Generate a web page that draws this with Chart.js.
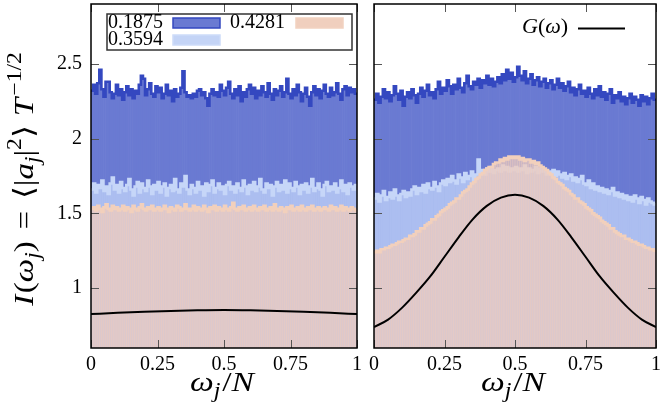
<!DOCTYPE html>
<html>
<head>
<meta charset="utf-8">
<script src="https://cdn.jsdelivr.net/npm/chart.js@4.4.1/dist/chart.umd.min.js"></script>
<style>
  html, body { margin: 0; padding: 0; background: #fff; }
  #wrap { position: relative; width: 660px; height: 409px; }
  canvas { position: absolute; left: 0; top: 0; }
</style>
</head>
<body>
<div id="wrap">
  <canvas id="leftChart" width="660" height="409"></canvas>
  <canvas id="rightChart" width="660" height="409"></canvas>
</div>
<script>
// tick positions
const xTicks = [0, 0.25, 0.5, 0.75, 1];
const yTicks = [1, 1.5, 2, 2.5];

// histogram heights, 128 bins over omega_j/N in [0,1]
const leftDark = [
  2.32, 2.36, 2.30, 2.37, 2.46, 2.33, 2.28, 2.38, 2.38, 2.31, 2.27, 2.30, 2.36, 2.29, 2.33, 2.26,
  2.31, 2.35, 2.29, 2.33, 2.27, 2.32, 2.30, 2.36, 2.42, 2.40, 2.29, 2.33, 2.37, 2.30, 2.28, 2.35,
  2.31, 2.34, 2.27, 2.30, 2.36, 2.29, 2.32, 2.25, 2.33, 2.28, 2.30, 2.34, 2.45, 2.31, 2.28, 2.29,
  2.27, 2.30, 2.28, 2.32, 2.33, 2.29, 2.31, 2.27, 2.22, 2.30, 2.33, 2.29, 2.31, 2.28, 2.36, 2.32,
  2.29, 2.34, 2.38, 2.30, 2.27, 2.33, 2.29, 2.35, 2.25, 2.31, 2.28, 2.33, 2.36, 2.30, 2.34, 2.27,
  2.32, 2.29, 2.35, 2.31, 2.28, 2.37, 2.30, 2.26, 2.33, 2.29, 2.32, 2.35, 2.28, 2.31, 2.40, 2.30,
  2.27, 2.33, 2.29, 2.36, 2.31, 2.25, 2.30, 2.34, 2.28, 2.22, 2.31, 2.35, 2.29, 2.33, 2.27, 2.32,
  2.36, 2.30, 2.28, 2.34, 2.29, 2.31, 2.37, 2.30, 2.26, 2.33, 2.35, 2.29, 2.34, 2.31, 2.33, 2.30
];
const leftLight = [
  1.66, 1.70, 1.64, 1.69, 1.67, 1.72, 1.65, 1.68, 1.63, 1.70, 1.74, 1.66, 1.69, 1.64, 1.71, 1.67,
  1.65, 1.69, 1.73, 1.66, 1.62, 1.68, 1.71, 1.64, 1.70, 1.67, 1.65, 1.72, 1.68, 1.63, 1.69, 1.66,
  1.71, 1.64, 1.68, 1.70, 1.62, 1.67, 1.69, 1.65, 1.73, 1.66, 1.64, 1.70, 1.68, 1.75, 1.66, 1.63,
  1.69, 1.67, 1.64, 1.71, 1.66, 1.68, 1.62, 1.70, 1.65, 1.69, 1.72, 1.64, 1.67, 1.70, 1.66, 1.68,
  1.63, 1.69, 1.71, 1.66, 1.68, 1.64, 1.70, 1.67, 1.65, 1.72, 1.68, 1.63, 1.69, 1.66, 1.71, 1.65,
  1.68, 1.73, 1.66, 1.64, 1.70, 1.67, 1.69, 1.62, 1.68, 1.71, 1.65, 1.69, 1.66, 1.72, 1.64, 1.70,
  1.67, 1.65, 1.71, 1.68, 1.63, 1.69, 1.66, 1.70, 1.64, 1.68, 1.73, 1.65, 1.67, 1.70, 1.66, 1.62,
  1.69, 1.71, 1.65, 1.68, 1.66, 1.70, 1.64, 1.67, 1.72, 1.65, 1.69, 1.63, 1.70, 1.68, 1.66, 1.69
];
const leftPeach = [
  1.53, 1.54, 1.52, 1.55, 1.53, 1.51, 1.54, 1.56, 1.53, 1.52, 1.55, 1.53, 1.54, 1.52, 1.53, 1.55,
  1.52, 1.54, 1.53, 1.51, 1.55, 1.53, 1.52, 1.54, 1.56, 1.53, 1.52, 1.54, 1.53, 1.55, 1.52, 1.53,
  1.54, 1.52, 1.53, 1.55, 1.53, 1.51, 1.54, 1.53, 1.52, 1.55, 1.54, 1.52, 1.53, 1.56, 1.53, 1.52,
  1.53, 1.55, 1.52, 1.54, 1.53, 1.52, 1.55, 1.53, 1.51, 1.54, 1.53, 1.55, 1.52, 1.54, 1.53, 1.52,
  1.55, 1.53, 1.52, 1.54, 1.57, 1.53, 1.52, 1.54, 1.53, 1.55, 1.52, 1.53, 1.54, 1.52, 1.55, 1.53,
  1.52, 1.54, 1.53, 1.55, 1.52, 1.53, 1.54, 1.52, 1.56, 1.53, 1.52, 1.54, 1.53, 1.51, 1.54, 1.53,
  1.55, 1.52, 1.53, 1.54, 1.52, 1.55, 1.53, 1.52, 1.54, 1.53, 1.55, 1.52, 1.53, 1.54, 1.52, 1.53,
  1.54, 1.53, 1.52, 1.55, 1.53, 1.54, 1.52, 1.53, 1.55, 1.52, 1.54, 1.53, 1.52, 1.54, 1.53, 1.52
];
const rightDark = [
  2.26, 2.30, 2.24, 2.28, 2.33, 2.27, 2.31, 2.25, 2.29, 2.35, 2.30, 2.26, 2.32, 2.22, 2.28, 2.31,
  2.27, 2.33, 2.29, 2.24, 2.30, 2.34, 2.28, 2.32, 2.36, 2.29, 2.31, 2.27, 2.33, 2.38, 2.30, 2.34,
  2.32, 2.39, 2.35, 2.30, 2.36, 2.33, 2.40, 2.34, 2.31, 2.37, 2.42, 2.35, 2.33, 2.38, 2.36, 2.40,
  2.34, 2.39, 2.37, 2.42, 2.36, 2.40, 2.35, 2.38, 2.41, 2.37, 2.43, 2.39, 2.46, 2.40, 2.44, 2.38,
  2.41, 2.48, 2.42, 2.39, 2.45, 2.37, 2.40, 2.43, 2.36, 2.39, 2.41, 2.35, 2.38, 2.40, 2.34, 2.37,
  2.39, 2.33, 2.36, 2.40, 2.34, 2.37, 2.32, 2.35, 2.38, 2.31, 2.34, 2.29, 2.33, 2.36, 2.30, 2.32,
  2.28, 2.34, 2.30, 2.27, 2.33, 2.29, 2.35, 2.28, 2.31, 2.26, 2.30, 2.33, 2.24, 2.29, 2.27, 2.31,
  2.25, 2.28, 2.23, 2.27, 2.30, 2.24, 2.28, 2.26, 2.22, 2.29, 2.25, 2.28, 2.23, 2.27, 2.30, 2.26
];
const rightLight = [
  1.60, 1.63, 1.58, 1.62, 1.65, 1.59, 1.61, 1.64, 1.60, 1.66, 1.62, 1.59, 1.63, 1.65, 1.61, 1.64,
  1.62, 1.66, 1.68, 1.63, 1.67, 1.65, 1.69, 1.64, 1.70, 1.67, 1.66, 1.71, 1.68, 1.65, 1.70, 1.72,
  1.69, 1.73, 1.71, 1.75, 1.72, 1.70, 1.76, 1.74, 1.71, 1.77, 1.73, 1.75, 1.78, 1.72, 1.76, 1.86,
  1.77, 1.79, 1.76, 1.80, 1.78, 1.81, 1.77, 1.79, 1.80, 1.78, 1.82, 1.79, 1.81, 1.78, 1.80, 1.79,
  1.81, 1.78, 1.80, 1.79, 1.82, 1.77, 1.80, 1.78, 1.79, 1.81, 1.77, 1.80, 1.78, 1.79, 1.76, 1.78,
  1.77, 1.79, 1.75, 1.78, 1.76, 1.74, 1.77, 1.73, 1.75, 1.76, 1.72, 1.74, 1.71, 1.73, 1.75, 1.70,
  1.69, 1.72, 1.67, 1.70, 1.66, 1.68, 1.65, 1.67, 1.64, 1.66, 1.63, 1.65, 1.67, 1.62, 1.64, 1.61,
  1.63, 1.60, 1.62, 1.59, 1.61, 1.58, 1.62, 1.60, 1.57, 1.61, 1.59, 1.56, 1.60, 1.58, 1.57, 1.56
];
const rightPeach = [
  1.24, 1.25, 1.24, 1.26, 1.26, 1.27, 1.27, 1.28, 1.29, 1.29, 1.30, 1.31, 1.31, 1.32, 1.33, 1.33,
  1.35, 1.35, 1.36, 1.38, 1.38, 1.40, 1.40, 1.42, 1.43, 1.44, 1.46, 1.46, 1.48, 1.49, 1.51, 1.52,
  1.53, 1.54, 1.56, 1.57, 1.58, 1.60, 1.60, 1.62, 1.64, 1.65, 1.66, 1.68, 1.70, 1.71, 1.73, 1.74,
  1.76, 1.77, 1.79, 1.80, 1.81, 1.81, 1.83, 1.84, 1.84, 1.86, 1.85, 1.87, 1.86, 1.88, 1.87, 1.88,
  1.87, 1.88, 1.86, 1.87, 1.85, 1.86, 1.86, 1.84, 1.85, 1.83, 1.84, 1.82, 1.81, 1.80, 1.79, 1.77,
  1.76, 1.74, 1.73, 1.71, 1.70, 1.69, 1.67, 1.66, 1.65, 1.63, 1.62, 1.60, 1.60, 1.58, 1.57, 1.56,
  1.54, 1.53, 1.52, 1.50, 1.49, 1.48, 1.47, 1.45, 1.44, 1.43, 1.42, 1.40, 1.40, 1.38, 1.37, 1.36,
  1.35, 1.35, 1.33, 1.33, 1.32, 1.31, 1.31, 1.30, 1.29, 1.29, 1.28, 1.27, 1.27, 1.26, 1.26, 1.25
];

// G(omega) curves, sampled along omega_j/N
const gLeftX = [0, 0.1, 0.2, 0.3, 0.4, 0.5, 0.6, 0.7, 0.8, 0.9, 1];
const gLeftY = [0.827, 0.835, 0.842, 0.848, 0.852, 0.854, 0.852, 0.848, 0.842, 0.835, 0.827];
const gRightX = [0, 0.05, 0.1, 0.15, 0.2, 0.25, 0.3, 0.35, 0.4, 0.45, 0.5,
                 0.55, 0.6, 0.65, 0.7, 0.75, 0.8, 0.85, 0.9, 0.95, 1];
const gRightY = [0.74, 0.79, 0.87, 0.97, 1.08, 1.21, 1.34, 1.46, 1.55, 1.605, 1.625,
                 1.605, 1.55, 1.46, 1.34, 1.21, 1.08, 0.97, 0.87, 0.79, 0.74];

const legendLabels = ['0.1875', '0.3594', '0.4281'];

const serif = '"Liberation Serif", "DejaVu Serif", serif';

const colors = {
  dark:  { fill: 'rgb(106, 122, 210)', edge: 'rgb(52, 72, 192)' },
  light: { fill: 'rgb(172, 190, 240)', edge: 'rgb(198, 214, 248)' },
  peach: { fill: 'rgba(238, 204, 190, 0.72)', edge: 'rgb(242, 208, 188)' }
};

// bars sit on bin centres, outline steps along bin edges
function centres(vals) {
  return vals.map((v, i) => ({ x: (i + 0.5) / vals.length, y: v }));
}
function edges(vals) {
  const pts = vals.map((v, i) => ({ x: i / vals.length, y: v }));
  pts.push({ x: 1, y: vals[vals.length - 1] });
  return pts;
}
function pairs(xs, ys) {
  return xs.map((x, i) => ({ x: x, y: ys[i] }));
}

function histSets(vals, c, order) {
  return [{
    type: 'line', data: edges(vals), stepped: true, fill: false,
    borderColor: c.edge, borderWidth: 2.6, pointRadius: 0, order: order
  }, {
    type: 'bar', data: centres(vals), backgroundColor: c.fill, borderWidth: 0,
    barPercentage: 1, categoryPercentage: 1, grouped: false, order: order + 1
  }];
}

// math-style text: italics, sub- and superscripts, widened glyphs
function drawRich(ctx, parts, x, y, size, align, stretch) {
  const fontOf = p => (p.it ? 'italic ' : '') + ((p.sub || p.sup) ? Math.round(size * 0.7) : size) + 'px ' + serif;
  let w = 0;
  parts.forEach(p => {
    if (p.gap) { p.w = p.gap * size; } else { ctx.font = fontOf(p); p.w = ctx.measureText(p.t).width * stretch; }
    w += p.w;
  });
  let cx = align === 'center' ? x - w / 2 : x;
  ctx.textBaseline = 'alphabetic';
  ctx.textAlign = 'left';
  parts.forEach(p => {
    if (!p.gap) {
      ctx.font = fontOf(p);
      const dy = p.sub ? size * 0.22 : p.sup ? -size * 0.42 : 0;
      ctx.save();
      ctx.translate(cx, y + dy);
      ctx.scale(stretch, 1);
      ctx.fillText(p.t, 0, 0);
      ctx.restore();
    }
    cx += p.w;
  });
}

const xTitle = [{ t: 'ω', it: true }, { t: 'j', it: true, sub: true }, { gap: 0.06 }, { t: '/' }, { t: 'N', it: true }];
const yTitle = [
  { t: 'I', it: true }, { gap: 0.06 }, { t: '(' }, { t: 'ω', it: true }, { t: 'j', it: true, sub: true }, { t: ')' },
  { gap: 0.42 }, { t: '=' }, { gap: 0.42 },
  { t: '⟨' }, { t: '|' }, { t: 'a', it: true }, { t: 'j', it: true, sub: true }, { t: '|' }, { t: '2', sup: true },
  { t: '⟩' }, { gap: 0.32 }, { t: 'T', it: true }, { gap: 0.08 }, { t: '−1/2', sup: true }
];

// inward ticks on all four sides plus the black frame and the x title
const frame = {
  id: 'frame',
  afterDatasetsDraw(chart) {
    const { ctx, chartArea: a, scales: { x, y } } = chart;
    ctx.save();
    ctx.strokeStyle = '#555';
    ctx.lineWidth = 1;
    ctx.beginPath();
    xTicks.forEach(v => {
      const px = Math.round(x.getPixelForValue(v)) + 0.5;
      ctx.moveTo(px, a.bottom); ctx.lineTo(px, a.bottom - 8);
      ctx.moveTo(px, a.top); ctx.lineTo(px, a.top + 8);
    });
    yTicks.forEach(v => {
      const py = Math.round(y.getPixelForValue(v)) + 0.5;
      ctx.moveTo(a.left, py); ctx.lineTo(a.left + 8, py);
      ctx.moveTo(a.right, py); ctx.lineTo(a.right - 8, py);
    });
    ctx.stroke();
    ctx.strokeStyle = '#000';
    ctx.lineWidth = 1.5;
    ctx.strokeRect(a.left, a.top, a.right - a.left, a.bottom - a.top);
    ctx.fillStyle = '#000';
    drawRich(ctx, xTitle, (a.left + a.right) / 2 - 2, 391, 28, 'center', 1.2);
    ctx.restore();
  }
};

const leftDecor = {
  id: 'leftDecor',
  afterDraw(chart) {
    const ctx = chart.ctx;
    ctx.save();
    // y axis title, rotated
    ctx.fillStyle = '#000';
    ctx.translate(33, 179);
    ctx.rotate(-Math.PI / 2);
    drawRich(ctx, yTitle, 0, 0, 28, 'center', 1.18);
    ctx.restore();

    // legend box
    ctx.save();
    ctx.fillStyle = '#fff';
    ctx.fillRect(107, 14, 245, 36);
    ctx.strokeStyle = '#333';
    ctx.lineWidth = 1.5;
    ctx.strokeRect(107, 14, 245, 36);
    ctx.fillStyle = '#000';
    ctx.font = '20px ' + serif;
    ctx.textBaseline = 'alphabetic';
    ctx.fillText(legendLabels[0], 108, 28);
    ctx.fillText(legendLabels[1], 108, 45);
    ctx.fillText(legendLabels[2], 230, 28);
    const swatch = (x, y, c) => {
      ctx.fillStyle = c.fill; ctx.fillRect(x, y, 47, 10);
      ctx.strokeStyle = c.edge; ctx.lineWidth = 1.5; ctx.strokeRect(x, y, 47, 10);
    };
    swatch(173, 18, colors.dark);
    swatch(173, 35, { fill: 'rgb(196, 212, 246)', edge: 'rgb(205, 219, 249)' });
    swatch(296, 18, { fill: 'rgb(240, 207, 190)', edge: 'rgb(242, 210, 192)' });
    ctx.restore();
  }
};

const rightDecor = {
  id: 'rightDecor',
  afterDraw(chart) {
    const ctx = chart.ctx;
    ctx.save();
    ctx.fillStyle = '#000';
    drawRich(ctx, [{ t: 'G', it: true }, { t: '(' }, { t: 'ω', it: true }, { t: ')' }], 522, 33, 21, 'left', 1.05);
    ctx.strokeStyle = '#000';
    ctx.lineWidth = 2;
    ctx.beginPath();
    ctx.moveTo(578, 28.5); ctx.lineTo(625, 28.5);
    ctx.stroke();
    ctx.restore();
  }
};

function makeChart(id, dark, light, peach, g, showY, padding, decor) {
  const datasets = [
    { type: 'line', data: g, borderColor: '#000', borderWidth: 2, pointRadius: 0,
      fill: false, cubicInterpolationMode: 'monotone', order: 0 }
  ].concat(histSets(peach, colors.peach, 1), histSets(light, colors.light, 3), histSets(dark, colors.dark, 5));

  return new Chart(document.getElementById(id).getContext('2d'), {
    type: 'bar',
    data: { datasets: datasets },
    options: {
      responsive: false,
      animation: false,
      devicePixelRatio: 1,
      layout: { padding: padding },
      plugins: { legend: { display: false }, tooltip: { enabled: false } },
      scales: {
        x: {
          type: 'linear', min: 0, max: 1, offset: false,
          afterBuildTicks: s => { s.ticks = xTicks.map(v => ({ value: v })); },
          afterFit: s => { s.height = 61; s.paddingLeft = 0; s.paddingRight = 0; },
          ticks: { font: { family: serif, size: 20 }, color: '#000', padding: 5, maxRotation: 0, autoSkip: false,
                   callback: v => String(v) },
          grid: { display: false, drawTicks: false },
          border: { display: false }
        },
        y: {
          display: showY,
          min: 0.6, max: 2.9,
          afterBuildTicks: s => { s.ticks = yTicks.map(v => ({ value: v })); },
          afterFit: s => { s.width = showY ? 91 : 0; s.paddingTop = 0; s.paddingBottom = 0; },
          ticks: { font: { family: serif, size: 20 }, color: '#000', padding: 9, callback: v => String(v) },
          grid: { display: false, drawTicks: false },
          border: { display: false }
        }
      }
    },
    plugins: [frame, decor]
  });
}

makeChart('leftChart', leftDark, leftLight, leftPeach, pairs(gLeftX, gLeftY), true,
  { left: 0, right: 303, top: 4, bottom: 0 }, leftDecor);
makeChart('rightChart', rightDark, rightLight, rightPeach, pairs(gRightX, gRightY), false,
  { left: 374, right: 4, top: 4, bottom: 0 }, rightDecor);
</script>
</body>
</html>
